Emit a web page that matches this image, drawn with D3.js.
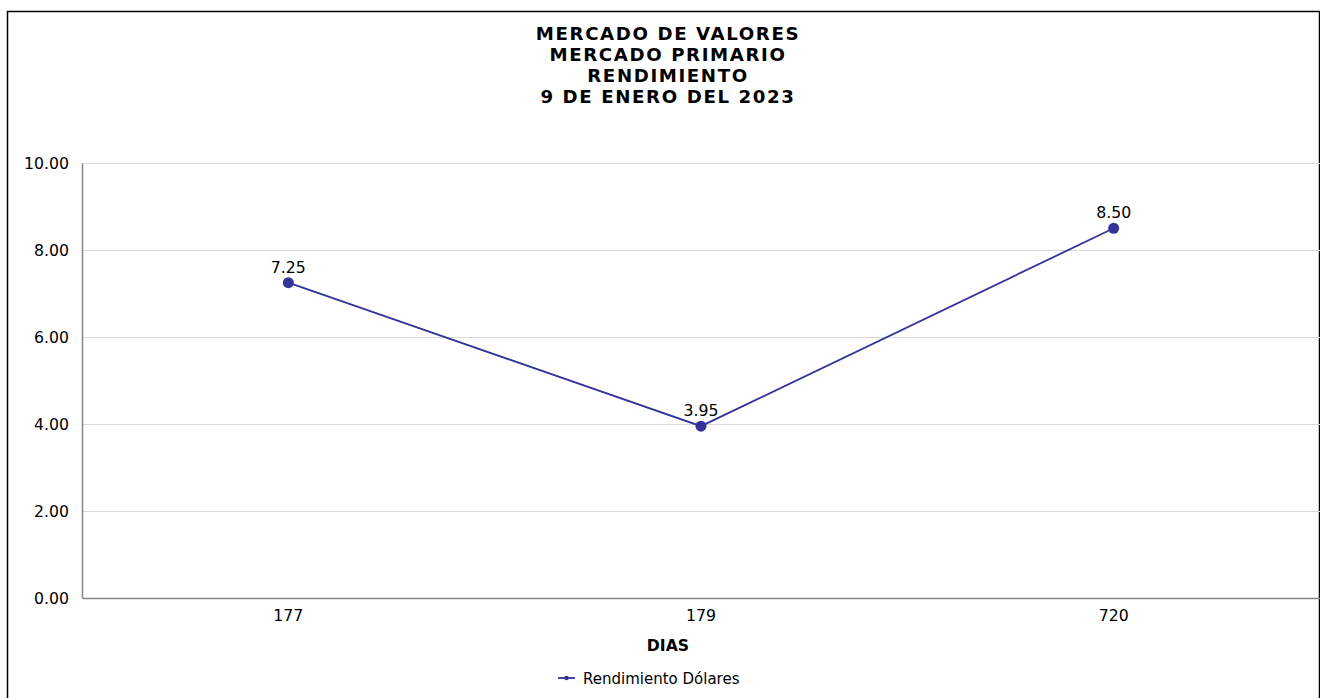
<!DOCTYPE html>
<html>
<head>
<meta charset="utf-8">
<script src="https://cdn.jsdelivr.net/npm/d3@7"></script>
<style>
  body { margin: 0; background: #fff; }
  svg text { font-family: "DejaVu Sans", Verdana, sans-serif; }
</style>
</head>
<body>
<div id="chart-area"></div>
<script>
// Data
var dias = ["177", "179", "720"];
var rendimiento = [7.25, 3.95, 8.50];
var yTicks = [0, 2, 4, 6, 8, 10];
var titleLines = ["MERCADO DE VALORES", "MERCADO PRIMARIO", "RENDIMIENTO", "9 DE ENERO DEL 2023"];
var seriesName = "Rendimiento Dólares";

var W = 1320, H = 698;
var margin = { top: 163, right: 0, bottom: 100, left: 82 };
var width = W - margin.left - margin.right;
var height = 598 - margin.top;
var lineColor = "#333399";

var svg = d3.select("#chart-area")
    .append("svg")
    .attr("width", W)
    .attr("height", H);

// outer border
svg.append("rect")
    .attr("x", 7.5).attr("y", 11.5)
    .attr("width", W - 8).attr("height", H)
    .attr("fill", "none")
    .attr("stroke", "#000")
    .attr("stroke-width", 1.5);

// Title
svg.selectAll(".title")
    .data(titleLines)
    .enter().append("text")
    .attr("class", "title")
    .attr("x", 668)
    .attr("y", (d, i) => 39.5 + i * 21.3)
    .attr("text-anchor", "middle")
    .attr("font-size", "18.2px")
    .attr("font-weight", "bold")
    .attr("letter-spacing", "1.6px")
    .text((d) => d);

var g = svg.append("g")
    .attr("transform", "translate(" + margin.left + ", " + margin.top + ")");

// Scales
var x = d3.scaleBand()
    .domain(dias)
    .range([0, width]);

var y = d3.scaleLinear()
    .domain([0, 10])
    .range([height, 0]);

// gridlines
g.selectAll(".grid")
    .data(yTicks.filter((d) => d > 0))
    .enter().append("line")
    .attr("class", "grid")
    .attr("x1", 0).attr("x2", width)
    .attr("y1", (d) => Math.round(y(d)) + 0.5)
    .attr("y2", (d) => Math.round(y(d)) + 0.5)
    .attr("stroke", "#d9d9d9")
    .attr("stroke-width", 1);

// axes
var leftAxis = d3.axisLeft(y)
    .tickValues(yTicks)
    .tickSize(0)
    .tickPadding(13)
    .tickFormat(d3.format(".2f"));

var yAxisG = g.append("g")
    .attr("class", "left axis")
    .call(leftAxis)
    .attr("font-size", 15.7);
yAxisG.select(".domain").attr("stroke", "#868686").attr("stroke-width", 1.5);
yAxisG.selectAll("text").attr("fill", "#000");

var bottomAxis = d3.axisBottom(x).tickSize(0).tickPadding(12);
var xAxisG = g.append("g")
    .attr("class", "bottom axis")
    .attr("transform", "translate(0, " + height + ")")
    .call(bottomAxis)
    .attr("font-size", 15.7);
xAxisG.select(".domain").attr("stroke", "#868686").attr("stroke-width", 1.5);
xAxisG.selectAll("text").attr("fill", "#000");

// x axis label
g.append("text")
    .attr("x", 668 - margin.left)
    .attr("y", 651 - margin.top)
    .attr("text-anchor", "middle")
    .attr("font-size", "15.7px")
    .attr("font-weight", "bold")
    .text("DIAS");

// line
var cx = (d, i) => x(dias[i]) + x.bandwidth() / 2;
var line = d3.line()
    .x((d, i) => cx(d, i))
    .y((d) => y(d));

g.append("path")
    .datum(rendimiento)
    .attr("d", line)
    .attr("fill", "none")
    .attr("stroke", lineColor)
    .attr("stroke-width", 1.8);

g.selectAll(".dot")
    .data(rendimiento)
    .enter().append("circle")
    .attr("class", "dot")
    .attr("cx", cx)
    .attr("cy", (d) => y(d))
    .attr("r", 5.5)
    .attr("fill", lineColor);

g.selectAll(".lbl")
    .data(rendimiento)
    .enter().append("text")
    .attr("class", "lbl")
    .attr("x", cx)
    .attr("y", (d) => y(d) - 10)
    .attr("text-anchor", "middle")
    .attr("font-size", "15.7px")
    .text((d) => d.toFixed(2));

// legend
var lg = svg.append("g").attr("transform", "translate(558, 678)");
lg.append("line")
    .attr("x1", 0).attr("x2", 17)
    .attr("y1", 0).attr("y2", 0)
    .attr("stroke", lineColor)
    .attr("stroke-width", 1.8);
lg.append("circle")
    .attr("cx", 8.5).attr("cy", 0).attr("r", 2.2)
    .attr("fill", lineColor);
lg.append("text")
    .attr("x", 25).attr("y", 6)
    .attr("font-size", "15px")
    .text(seriesName);
</script>
</body>
</html>
